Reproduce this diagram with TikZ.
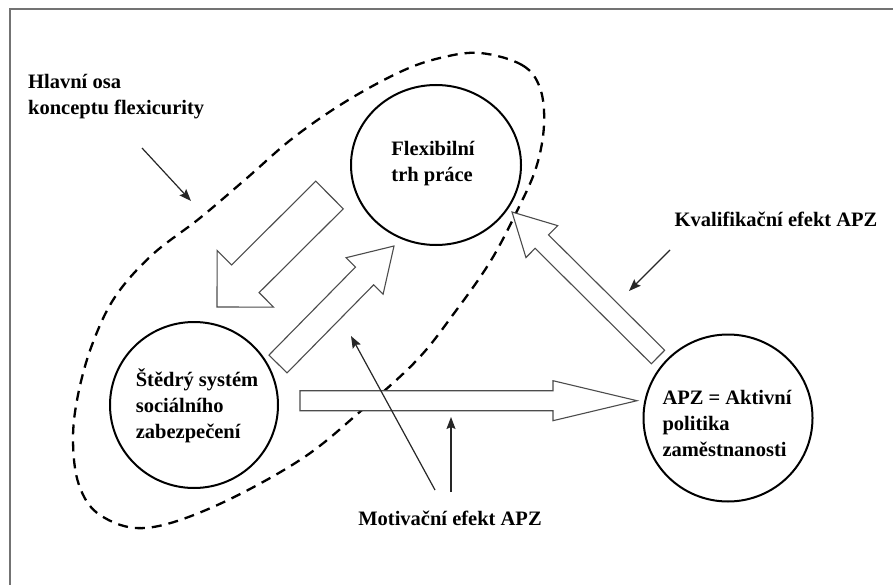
\documentclass[tikz,border=0pt]{standalone}
\usepackage{fontspec}
\setmainfont{Liberation Serif}
\usepackage{tikz}
\usetikzlibrary{
  shapes.geometric
  , calc
  , arrows.meta
}

\tikzset{
  circ/.style={ellipse, draw=black, line width=2pt, inner sep=0pt},
  txt/.style={font=\fontsize{20.5}{26}\selectfont\bfseries, align=left, inner sep=0pt},
  blockarr/.style={draw=black!70, fill=white, line width=1.1pt, line join=miter},
  pointer/.style={draw=black!85, line width=1.2pt, -{Stealth[length=12pt,width=9pt,inset=2pt]}},
  axisloop/.style={draw=black, line width=2.3pt, dash pattern=on 10pt off 7pt}
}

% hollow block arrow: start, tip, half shaft, half head, head length
\newcommand{\hollowarrow}[5]{%
  \coordinate (hb) at ($(#2)!#5!(#1)$);
  \draw [blockarr] ($(#1)!#3!90:(#2)$) -- ($(hb)!#3!90:(#2)$) -- ($(hb)!#4!90:(#2)$)
    -- (#2) -- ($(hb)!#4!-90:(#2)$) -- ($(hb)!#3!-90:(#2)$) -- ($(#1)!#3!-90:(#2)$) -- cycle;
}

\begin{document}
\begin{tikzpicture}[x=1pt, y=-1pt]
      \fill [white] (0,0) rectangle (893,585);
      \useasboundingbox (0,0) rectangle (893,585);
      \draw [black!55, line width=1.5pt] (10,9) rectangle (910,600);

      % main axis of the concept
      \draw [axisloop] plot [smooth cycle, tension=0.6] coordinates {
        (480,53) (522,65) (540,88) (544,125) (536,168) (516,213) (490,262)
        (455,312) (417,360) (362,410) (300,460) (213,507) (145,528) (100,515)
        (79,485) (73,440) (78,395) (92,345) (115,297) (152,255) (200,218)
        (247,178) (293,138) (345,102) (400,72) (440,58)};

      \node [circ, minimum width=170pt, minimum height=160pt] (flex) at (436,165) {};
      \node [circ, minimum width=168pt, minimum height=166pt] (sted) at (194,405) {};
      \node [circ, minimum width=169pt, minimum height=167pt] (apz) at (728,418) {};

      \node [txt] (flextxt) at (433,164) {Flexibilní\\trh práce};
      \node [txt] (stedtxt) at (197,406) {Štědrý systém\\sociálního\\zabezpečení};
      \node [txt] (apztxt) at (727,423) {APZ = Aktivní\\politika\\zaměstnanosti};

      \node [txt, anchor=west] (osa) at (28,97) {Hlavní osa\\konceptu flexicurity};
      \node [txt] (kval) at (776,219) {Kvalifikační efekt APZ};
      \node [txt] (motiv) at (450,518) {Motivační efekt APZ};

      \coordinate (fs1) at (329.5,195);
      \coordinate (fs2) at (217,307);
      \coordinate (sf1) at (278,364);
      \coordinate (sf2) at (394,246);
      \coordinate (af1) at (658,357);
      \coordinate (af2) at (512,212);
      \coordinate (sa1) at (300,400.7);
      \coordinate (sa2) at (637,400.7);

      \hollowarrow{fs1}{fs2}{19.5pt}{40pt}{40pt}
      \hollowarrow{sf1}{sf2}{12.7pt}{26pt}{42pt}
      \hollowarrow{af1}{af2}{9.5pt}{22.5pt}{42pt}
      \hollowarrow{sa1}{sa2}{10pt}{20pt}{84pt}

      \coordinate (osa1) at (142,148);
      \coordinate (osa2) at (191,201);
      \coordinate (kval1) at (670,250);
      \coordinate (kval2) at (629,291);
      \coordinate (mot1) at (435,490);
      \coordinate (mot2) at (351,336);
      \coordinate (mot3) at (451,492);
      \coordinate (mot4) at (451,417);

      \draw [pointer] (osa1) -- (osa2);
      \draw [pointer] (kval1) -- (kval2);
      \draw [pointer] (mot1) -- (mot2);
      \draw [pointer] (mot3) -- (mot4);
    \end{tikzpicture}
\end{document}
